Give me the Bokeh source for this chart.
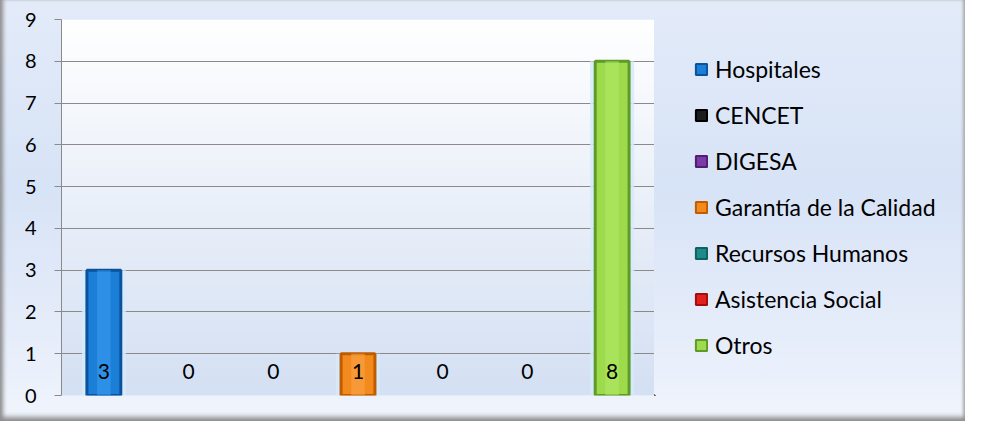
import numpy as np
from bokeh.plotting import figure
from bokeh.layouts import row
from bokeh.models import Range1d, Legend, LegendItem, FixedTicker
from bokeh.core.properties import value
from bokeh.embed import file_html
from bokeh.resources import INLINE

categories = ["Hospitales", "CENCET", "DIGESA", "Garantía de la Calidad",
              "Recursos Humanos", "Asistencia Social", "Otros"]
values = [3, 0, 0, 1, 0, 0, 8]
y_ticks = [0, 1, 2, 3, 4, 5, 6, 7, 8, 9]
bar_colors = ["#1b7fd8", "#1c1c1c", "#7b3aa8", "#f28a1e", "#1f8a8a", "#e3211c", "#9edb4c"]
edge_colors = ["#0a539c", "#000000", "#4f1f70", "#c05c00", "#10605f", "#a00f0c", "#5f9a28"]
light_colors = ["#3c9ef2", "#3a3a3a", "#9c60c8", "#f9a54a", "#3aa8a8", "#f04a44", "#b2ea68"]

FONT = "Lato"
xs = list(range(1, len(categories) + 1))

p = figure(width=654, height=421, x_range=Range1d(0.5, 7.5), y_range=Range1d(0, 9),
           output_backend="svg", toolbar_location=None,
           min_border_left=61, min_border_right=0, min_border_top=19, min_border_bottom=26)
p.border_fill_color = None
p.background_fill_color = None
p.outline_line_color = None

# plot-area gradient (white top to light blue bottom)
n = 120
top = np.array([255, 255, 255], dtype=float)
bot = np.array([0xd4, 0xe0, 0xf3], dtype=float)
t = np.linspace(0, 1, n)[:, None]
rgb = (bot * (1 - t) + top * t).astype(np.uint8)
img = np.empty((n, 1), dtype=np.uint32)
view = img.view(dtype=np.uint8).reshape((n, 1, 4))
view[:, 0, 0] = rgb[:, 0]
view[:, 0, 1] = rgb[:, 1]
view[:, 0, 2] = rgb[:, 2]
view[:, 0, 3] = 255
p.image_rgba(image=[img], x=0.5, y=0, dw=7, dh=9, level="image")

# axes / grid
p.xaxis.visible = False
p.xgrid.visible = False
yax = p.yaxis[0]
yax.ticker = FixedTicker(ticks=y_ticks)
yax.axis_line_color = "#8a8a8a"
yax.major_tick_line_color = "#8a8a8a"
yax.major_tick_out = 7
yax.major_tick_in = 0
yax.minor_tick_line_color = None
yax.major_label_standoff = 18
yax.major_label_text_font = FONT
yax.major_label_text_font_size = "20px"
yax.major_label_text_color = "#000000"
p.ygrid.ticker = FixedTicker(ticks=y_ticks)
p.ygrid.grid_line_color = "#8a8a8a"
p.ygrid.grid_line_width = 1.2

# bars
for i, v in enumerate(values):
    x = xs[i]
    shown = 1.0 if v > 0 else 0.0
    p.vbar(x=[x], top=[v], width=0.52, fill_color="#d6eafb", fill_alpha=0.85 * shown, line_color=None)
    p.vbar(x=[x], top=[v], width=0.40, fill_color=bar_colors[i], line_color=edge_colors[i],
           line_width=3, line_alpha=shown)
    p.vbar(x=[x], top=[v], width=0.16, fill_color=light_colors[i], fill_alpha=0.55 * shown,
           line_color=None)

# value labels
p.text(x=xs, y=[0.58] * len(xs), text=[str(v) for v in values], text_align="center",
       text_baseline="middle", text_font=value(FONT), text_font_size="21px", text_color="#000000")

# legend panel (its swatch renderers sit entirely outside the visible area)
q = figure(width=311, height=421, x_range=Range1d(0, 1), y_range=Range1d(0, 1),
           output_backend="svg", toolbar_location=None,
           min_border_left=0, min_border_right=0, min_border_top=0, min_border_bottom=0)
q.axis.visible = False
q.grid.visible = False
q.border_fill_color = None
q.background_fill_color = None
q.outline_line_color = None

items = []
for i, c in enumerate(categories):
    r = q.vbar(x=[-5], bottom=[-3], top=[-2], width=0.4, fill_color=bar_colors[i],
               line_color=edge_colors[i], line_width=2)
    items.append(LegendItem(label=c, renderers=[r]))

legend = Legend(items=items, location=(40, 36))
legend.background_fill_alpha = 0
legend.border_line_alpha = 0
legend.padding = 0
legend.margin = 0
legend.spacing = 18
legend.label_height = 20
legend.glyph_height = 14
legend.glyph_width = 14
legend.label_standoff = 7
legend.label_text_font = FONT
legend.label_text_font_size = "23px"
legend.label_text_color = "#000000"
q.add_layout(legend)

layout = row(p, q)
layout.styles = {
    "background": "linear-gradient(to bottom, #e3ebf9 0%, #d7e3f6 45%, #e6edfa 80%, #eef3fc 96%)",
    "box-shadow": "inset 5px 0 4px -2px #8e8e8e, inset 0 -6px 5px -2px #8e8e8e, inset -3px 0 3px -1px #b4b4b4",
}

open("out.html", "w").write(file_html(layout, INLINE))
